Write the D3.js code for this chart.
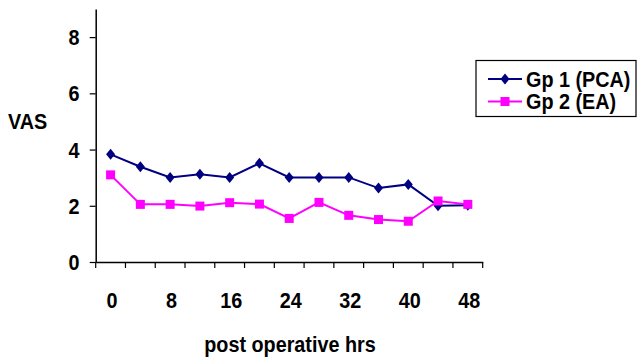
<!DOCTYPE html>
<html><head><meta charset="utf-8">
<script src="https://cdn.jsdelivr.net/npm/d3@7/dist/d3.min.js"></script>
<style>
body{margin:0;background:#fff;}
text{font-family:"Liberation Sans",Arial,sans-serif;font-weight:bold;fill:#000;}
</style></head>
<body><svg id="c" width="637" height="358"></svg>
<script>
const hours = [0,4,8,12,16,20,24,28,32,36,40,44,48];
const tickLabels = [0,8,16,24,32,40,48];
const seriesNames = ["Gp 1 (PCA)","Gp 2 (EA)"];
const gp1 = [3.83,3.39,3.01,3.12,3.01,3.51,3.01,3.01,3.01,2.63,2.76,2.0,2.02];
const gp2 = [3.1,2.05,2.05,1.99,2.11,2.06,1.55,2.12,1.66,1.51,1.45,2.17,2.05];
const yTicks = [0,2,4,6,8];

const svg = d3.select("#c");
const L=95.7, R=482.7, T=9, B=262;
const SX = 0.9;
const x = d3.scaleBand().domain(hours).range([L,R]);
const y = d3.scaleLinear().domain([0,9]).range([B,T]);

function ntext(parent, px, py, str, size, anchor){
  return parent.append("text")
    .attr("transform",`translate(${px},${py}) scale(${SX},1)`)
    .attr("text-anchor",anchor||"start")
    .style("font-size",size+"px").text(str);
}

// y axis
const ya = svg.append("g").attr("transform",`translate(${L},0)`)
  .call(d3.axisLeft(y).tickValues(yTicks).tickSize(6).tickSizeOuter(0).tickFormat(""));
ya.select(".domain").attr("stroke","#000").attr("stroke-width",1.5);
ya.selectAll(".tick line").attr("stroke","#000").attr("stroke-width",1.2);
yTicks.forEach(v=>ntext(svg, 79.5, y(v)+8, v, 22, "end"));

// x axis
const xa = svg.append("g").attr("transform",`translate(0,${B})`)
  .call(d3.axisBottom(x).tickValues([]).tickSizeOuter(0));
xa.select(".domain").attr("stroke","#000").attr("stroke-width",1.5);
const bounds = hours.map(h=>x(h)).concat([R]);
xa.selectAll("line.bt").data(bounds).enter().append("line").attr("class","bt")
  .attr("x1",d=>d).attr("x2",d=>d).attr("y1",0).attr("y2",6)
  .attr("stroke","#000").attr("stroke-width",1.2);
tickLabels.forEach(v=>ntext(svg, x(v)+x.bandwidth()/2+1.5, 308, v, 22, "middle"));

// axis titles
ntext(svg, 8, 129, "VAS", 22, "start");
ntext(svg, 290, 352, "post operative hrs", 22, "middle");

const line = d3.line().x((d,i)=>x(hours[i])+x.bandwidth()/2).y(d=>y(d));
const colors = ["#000080","#FF00FF"];
[gp1,gp2].forEach((data,k)=>{
  svg.append("path").datum(data).attr("d",line).attr("fill","none")
    .attr("stroke",colors[k]).attr("stroke-width",2);
});
const diamond = "M0,-5.5L4.5,0L0,5.5L-4.5,0Z";
svg.selectAll("path.m1").data(gp1).enter().append("path").attr("class","m1")
  .attr("d",diamond).attr("fill",colors[0])
  .attr("transform",(d,i)=>`translate(${x(hours[i])+x.bandwidth()/2},${y(d)})`);
svg.selectAll("rect.m2").data(gp2).enter().append("rect").attr("class","m2")
  .attr("width",9).attr("height",9).attr("fill",colors[1])
  .attr("x",(d,i)=>x(hours[i])+x.bandwidth()/2-4.5).attr("y",d=>y(d)-4.5);

// legend
const lg = svg.append("g");
lg.append("rect").attr("x",476).attr("y",60.5).attr("width",160).attr("height",56)
  .attr("fill","#fff").attr("stroke","#000").attr("stroke-width",1.2);
const rows=[79,101.5];
seriesNames.forEach((n,k)=>{
  lg.append("line").attr("x1",488).attr("x2",522).attr("y1",rows[k]).attr("y2",rows[k])
    .attr("stroke",colors[k]).attr("stroke-width",2);
  if(k===0) lg.append("path").attr("d",diamond).attr("fill",colors[0]).attr("transform",`translate(505,${rows[k]})`);
  else lg.append("rect").attr("x",500.5).attr("y",rows[k]-4.5).attr("width",9).attr("height",9).attr("fill",colors[1]);
  ntext(lg, 526, rows[k]+7.5, n, 22, "start");
});
</script></body></html>
